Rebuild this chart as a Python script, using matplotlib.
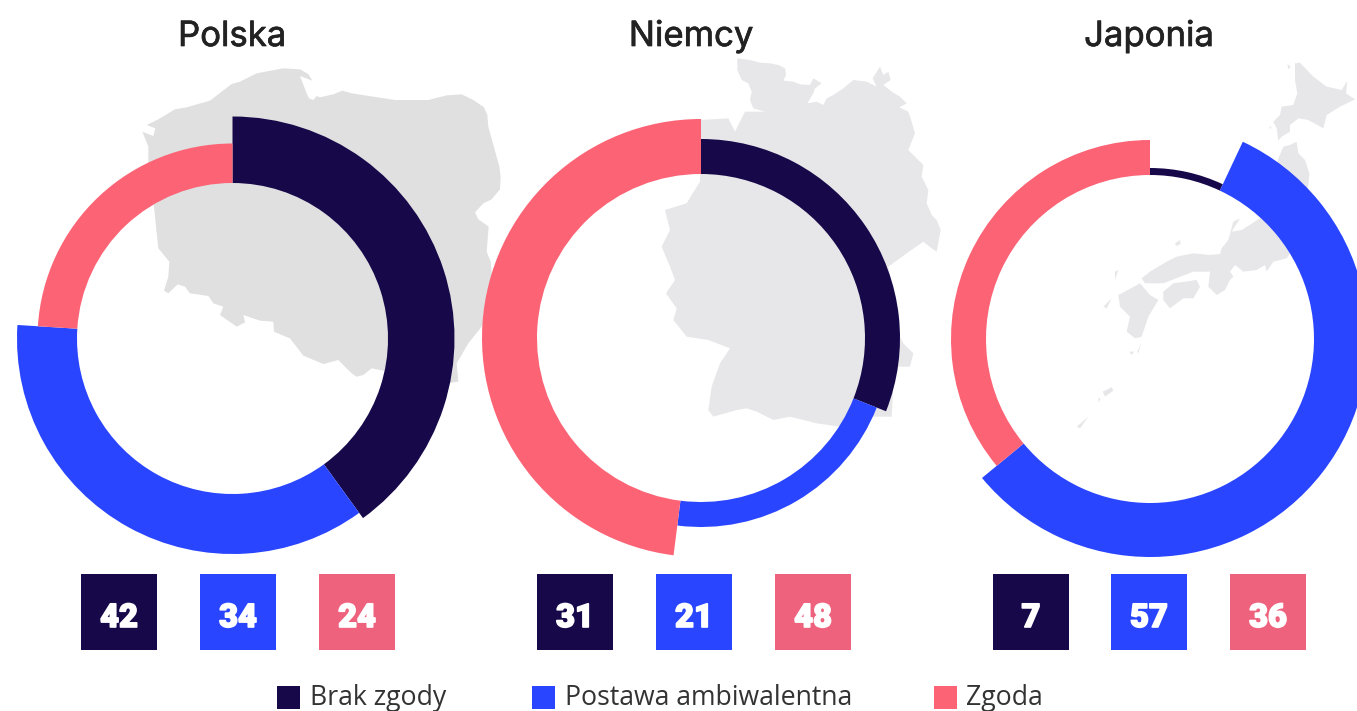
# Three donut charts with the country maps behind them
import numpy as np
import matplotlib
matplotlib.use("Agg")
import matplotlib.pyplot as plt
import matplotlib.patheffects as pe
from matplotlib.patches import Wedge, Polygon, Rectangle

countries = ["Polska", "Niemcy", "Japonia"]
legend_labels = ["Brak zgody", "Postawa ambiwalentna", "Zgoda"]

# numbers printed in the squares
polska_values = [42, 34, 24]
niemcy_values = [31, 21, 48]
japonia_values = [7, 57, 36]

# shares as the arcs are drawn (Polska arcs are not the same as its labels)
polska_arcs = [40, 36, 24]
niemcy_arcs = [31, 21, 48]
japonia_arcs = [7, 57, 36]

values = [polska_values, niemcy_values, japonia_values]
arcs = [polska_arcs, niemcy_arcs, japonia_arcs]

DARK = "#17084a"
BLUE = "#2945ff"
PINK = "#fc6476"
PINK_BOX = "#ee627d"
ring_colors = [DARK, BLUE, PINK]
box_colors = [DARK, BLUE, PINK_BOX]

centers = [(232.5, 338.5), (701, 338), (1150, 339)]
inner_r = [155.5, 164, 164]
outer_r = [[222, 215.5, 195], [199, 189, 219], [171, 218, 199]]
box_x = [[81, 200, 319], [537, 656, 775], [993, 1111, 1230]]
title_x = [232, 691, 1149]
legend_x = [277, 532, 934]
legend_text_x = [310, 565, 966]

poland = [(50,195),(85,178),(135,148),(170,142),(240,122),(305,72),(330,65),(380,40),(460,25),(510,28),
          (535,42),(547,62),(510,48),(530,100),(537,115),(550,120),(560,108),(570,112),(610,103),(637,92),
          (665,100),(795,120),(895,120),(950,106),(995,103),(1030,120),(1062,142),(1072,165),(1075,200),
          (1108,320),(1112,350),(1110,388),(1085,418),(1060,430),(1035,457),(1045,478),(1076,500),(1070,575),
          (1082,605),(1086,650),(1070,760),(1055,800),(1015,850),(980,910),(985,965),(950,970),(725,925),
          (700,945),(680,950),(665,940),(625,900),(580,912),(520,887),(480,835),(455,825),(432,815),(430,785),
          (390,782),(340,765),(345,787),(320,800),(270,765),(280,740),(250,730),(235,708),(180,700),(165,680),
          (143,673),(115,700),(102,692),(115,650),(118,605),(85,565),(78,500),(72,440),(55,320),(55,260),
          (37,215),(70,228),(76,205)]
germany = [(262,25),(300,30),(330,38),(360,40),(385,45),(405,55),(408,75),(400,92),(430,95),(450,103),(480,105),
           (490,85),(515,100),(495,115),(490,130),(472,160),(500,155),(520,165),(530,145),(550,135),(580,115),
           (610,90),(650,95),(680,110),(668,85),(690,50),(700,75),(715,65),(722,90),(700,105),(725,125),(750,140),
           (770,160),(748,172),(775,185),(785,215),(795,250),(775,300),(800,325),(820,345),(815,380),(835,420),
           (830,460),(845,495),(860,510),(872,540),(860,605),(845,595),(820,575),(770,610),(715,650),(745,850),
           (760,880),(790,910),(780,950),(745,950),(730,1000),(725,1100),(690,1100),(660,1100),(620,1115),
           (570,1130),(500,1120),(420,1100),(370,1110),(320,1085),(290,1075),(260,1080),(190,1100),(175,1080),
           (185,1010),(210,940),(240,895),(175,870),(110,860),(70,810),(80,775),(48,730),(75,690),(60,650),
           (35,590),(60,540),(45,480),(110,460),(125,435),(150,395),(150,210),(235,205),(255,245),(285,185),
           (345,185),(310,175),(300,150),(305,125),(295,100),(275,90),(262,60)]
japan = [
    [(705,40),(720,38),(760,80),(800,110),(845,120),(862,92),(858,130),(885,148),(840,170),(800,195),(790,235),
     (745,210),(715,205),(690,225),(690,245),(665,260),(655,272),(650,235),(640,215),(660,195),(665,170),
     (700,165),(712,130),(705,90)],
    [(655,325),(670,290),(690,285),(710,275),(715,310),(735,330),(748,370),(745,405),(720,500),(690,610),(680,625),
     (640,635),(620,665),(615,645),(590,660),(550,665),(525,645),(510,665),(520,680),(510,690),(495,720),(470,735),
     (445,710),(450,665),(400,665),(310,700),(255,700),(245,685),(270,665),(320,635),(350,620),(400,610),(450,615),
     (480,612),(485,595),(505,570),(520,515),(540,505),(515,545),(545,540),(600,505)],
    [(310,725),(340,700),(410,690),(420,710),(400,745),(370,745),(330,775),(310,750)],
    [(175,735),(240,700),(270,735),(295,750),(265,800),(245,860),(225,865),(200,845),(210,800),(180,770)],
    [(165,665),(175,660),(165,690)],
    [(232,905),(243,880),(235,910)],
    [(208,905),(222,905),(215,915)],
    [(130,770),(155,745),(140,775)],
    [(128,1025),(155,1012),(160,1022),(135,1040)],
    [(50,1130),(85,1100),(60,1135)],
    [(115,1045),(122,1045),(115,1058)],
    [(345,580),(360,570),(362,582),(350,588)],
    [(682,42),(692,50),(685,58)],
    [(628,232),(634,228),(632,238)],
]


def crop_to_px(points, x0, y0):
    pts = np.array(points, dtype=float) / 3
    return pts + [x0, y0]


fig = plt.figure(figsize=(13.57, 7.11), dpi=100)
ax = fig.add_axes([0, 0, 1, 1])
ax.set_xlim(0, 1357)
ax.set_ylim(711, 0)
ax.axis("off")

ax.add_patch(Polygon(crop_to_px(poland, 130, 60), color="#e0e0e0", lw=0, zorder=1))
ax.add_patch(Polygon(crop_to_px(germany, 650, 50), color="#e7e7e9", lw=0, zorder=1))
for part in japan:
    ax.add_patch(Polygon(crop_to_px(part, 1060, 50), color="#e7e7e9", lw=0, zorder=1))

for i, name in enumerate(countries):
    ax.text(title_x[i], 37, name, ha="center", va="center", fontsize=25,
            family="Inter", color="#222222",
            path_effects=[pe.withStroke(linewidth=0.5, foreground="#222222")])

    # y axis is flipped, so growing angles run clockwise from the top
    start = -90
    total = sum(arcs[i])
    for j, share in enumerate(arcs[i]):
        end = start + share / total * 360
        ax.add_patch(Wedge(centers[i], outer_r[i][j], start, end,
                           width=outer_r[i][j] - inner_r[i],
                           color=ring_colors[j], lw=0, zorder=2))
        start = end

    for j, v in enumerate(values[i]):
        ax.add_patch(Rectangle((box_x[i][j], 574), 76, 76, color=box_colors[j], lw=0, zorder=2))
        ax.text(box_x[i][j] + 38, 618, str(v), ha="center", va="center", fontsize=23.5,
                family="Roboto", weight="black", color="white", zorder=3,
                path_effects=[pe.withStroke(linewidth=1.2, foreground="white")])

for j, label in enumerate(legend_labels):
    ax.add_patch(Rectangle((legend_x[j], 686), 23, 23, color=ring_colors[j], lw=0))
    ax.text(legend_text_x[j], 698, label, ha="left", va="center", fontsize=19.2,
            family="Open Sans", color="#333333")

fig.savefig("out.png", dpi=100)
